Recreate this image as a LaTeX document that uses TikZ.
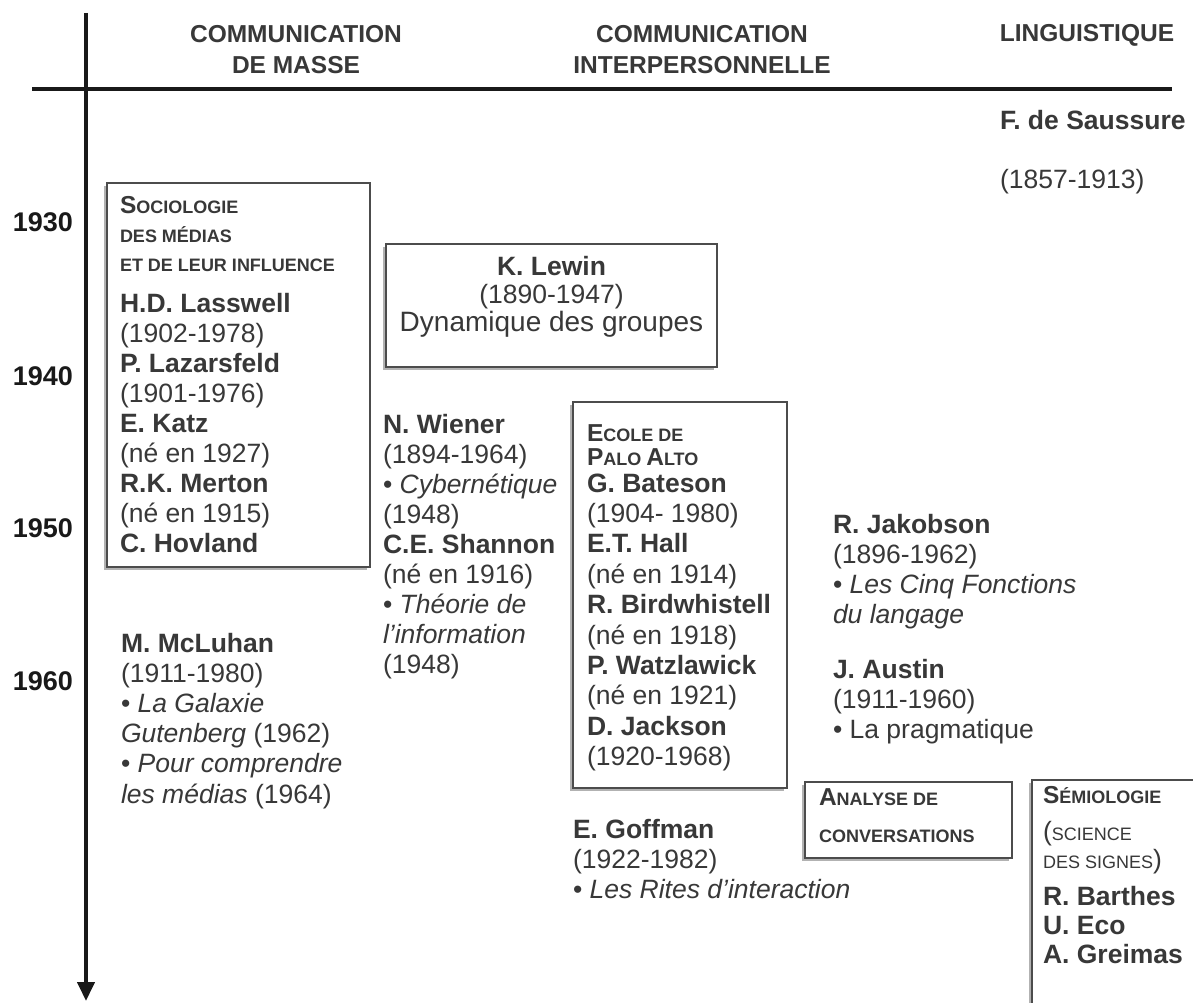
\documentclass[tikz,border=0pt]{standalone}
\usepackage{fontspec}
\setmainfont{Liberation Sans}
\usetikzlibrary{arrows.meta,shadows}
\definecolor{txt}{gray}{0.22}
\definecolor{ink}{gray}{0.10}
\definecolor{boxc}{gray}{0.30}
\definecolor{shad}{gray}{0.70}
\newcommand\bodyfont{\fontsize{26.5}{30.3}\selectfont}
\newcommand\scb[2]{{\fontsize{24.5}{24}\selectfont\bfseries #1}{\fontsize{18}{18}\selectfont\bfseries #2}}
\newcommand\scr[1]{{\fontsize{18}{18}\selectfont #1}}
\newcommand\rl[1]{\hbox{#1}}
\newcommand\ctr[1]{\hbox to 330pt{\hfil #1\hfil}}
\newcommand\blk[2]{\vtop{\baselineskip=#1\lineskiplimit=-40pt\lineskip=0pt #2}}
\tikzset{
  x=1pt, y=-1pt,
  tx/.style={inner sep=0pt, outer sep=0pt, text=txt, font=\bodyfont},
  hd/.style={inner sep=0pt, outer sep=0pt, text=txt, font=\fontsize{24.5}{31}\selectfont\bfseries},
  yr/.style={inner sep=0pt, outer sep=0pt, text=ink, font=\fontsize{27}{27}\selectfont\bfseries},
  boxst/.style={draw=boxc, line width=2pt, fill=white, inner sep=0pt,
    drop shadow={shadow xshift=-3pt, shadow yshift=-3pt, fill=shad, opacity=1}},
  axisline/.style={draw=ink, line width=4pt},
}
\begin{document}
\begin{tikzpicture}
\useasboundingbox (0,0) rectangle (1193,1003);
\clip (0,0) rectangle (1193,1003);
\fill[white] (0,0) rectangle (1193,1003);

% axes
\coordinate (axtop) at (86,13);
\coordinate (axbot) at (86,1001);
\coordinate (hlL) at (32,89);
\coordinate (hlR) at (1172,89);
\draw[axisline] (hlL) -- (hlR);
\draw[axisline, -{Triangle[length=19pt,width=17pt]}] (axtop) -- (axbot);

% headers
\node[hd, anchor=base] (h1) at (296,43) {\blk{31pt}{\ctr{COMMUNICATION}\ctr{DE MASSE}}};
\node[hd, anchor=base] (h2) at (702,43) {\blk{31pt}{\ctr{COMMUNICATION}\ctr{INTERPERSONNELLE}}};
\node[hd, anchor=base] (h3) at (1087,42) {LINGUISTIQUE};

% years
\node[yr, anchor=base east] (y1930) at (73,231) {1930};
\node[yr, anchor=base east] (y1940) at (73,385) {1940};
\node[yr, anchor=base east] (y1950) at (73,537) {1950};
\node[yr, anchor=base east] (y1960) at (73,690) {1960};

% boxes
\node[boxst, minimum width=263pt, minimum height=384pt] (socbox) at (238.5,375) {};
\node[boxst, minimum width=331pt, minimum height=123pt] (lewbox) at (551.5,305.5) {};
\node[boxst, minimum width=214pt, minimum height=386pt] (palbox) at (680,595) {};
\node[boxst, minimum width=207pt, minimum height=76pt] (anabox) at (908.5,820) {};
\node[boxst, minimum width=183pt, minimum height=245pt] (sembox) at (1123.5,902.5) {};

% Sociologie
\node[tx, anchor=base west] (soch) at (120,213) {\blk{29pt}{\rl{\scb{S}{OCIOLOGIE}}\rl{\scb{}{DES MÉDIAS}}\rl{\scb{}{ET DE LEUR INFLUENCE}}}};
\node[tx, anchor=base west] (socn) at (120,312) {\blk{30.1pt}{%
\rl{\textbf{H.D. Lasswell}}\rl{(1902-1978)}\rl{\textbf{P. Lazarsfeld}}\rl{(1901-1976)}%
\rl{\textbf{E. Katz}}\rl{(né en 1927)}\rl{\textbf{R.K. Merton}}\rl{(né en 1915)}\rl{\textbf{C. Hovland}}}};

% Lewin
\node[tx, anchor=base] (lewt) at (551.5,275) {\blk{28pt}{\ctr{\textbf{K. Lewin}}\ctr{(1890-1947)}\ctr{\fontsize{28}{28}\selectfont Dynamique des groupes}}};

% Wiener / Shannon
\node[tx, anchor=base west] (wien) at (383,433) {\blk{30.1pt}{%
\rl{\textbf{N. Wiener}}\rl{(1894-1964)}\rl{• \textit{Cybernétique}}\rl{(1948)}%
\rl{\textbf{C.E. Shannon}}\rl{(né en 1916)}\rl{• \textit{Théorie de}}\rl{\textit{l’information}}\rl{(1948)}}};

% Palo Alto
\node[tx, anchor=base west] (palh) at (587,441) {\blk{24pt}{\rl{\scb{E}{COLE DE}}\rl{\scb{P}{ALO }\scb{A}{LTO}}}};
\node[tx, anchor=base west] (paln) at (587,492) {\blk{30.4pt}{%
\rl{\textbf{G. Bateson}}\rl{(1904- 1980)}\rl{\textbf{E.T. Hall}}\rl{(né en 1914)}%
\rl{\textbf{R. Birdwhistell}}\rl{(né en 1918)}\rl{\textbf{P. Watzlawick}}\rl{(né en 1921)}%
\rl{\textbf{D. Jackson}}\rl{(1920-1968)}}};

% McLuhan
\node[tx, anchor=base west] (mclu) at (121,652) {\blk{30.2pt}{%
\rl{\textbf{M. McLuhan}}\rl{(1911-1980)}\rl{• \textit{La Galaxie}}\rl{\textit{Gutenberg} (1962)}%
\rl{• \textit{Pour comprendre}}\rl{\textit{les médias} (1964)}}};

% Goffman
\node[tx, anchor=base west] (goff) at (573,838) {\blk{30pt}{%
\rl{\textbf{E. Goffman}}\rl{(1922-1982)}\rl{• \textit{Les Rites d’interaction}}}};

% Saussure
\node[tx, anchor=base west] (saus) at (1000,130) {\textbf{F. de Saussure}};
\node[tx, anchor=base west] (sausd) at (1000,189) {(1857-1913)};

% Jakobson / Austin
\node[tx, anchor=base west] (jak) at (833,533) {\blk{30.3pt}{%
\rl{\textbf{R. Jakobson}}\rl{(1896-1962)}\rl{• \textit{Les Cinq Fonctions}}\rl{\textit{du langage}}}};
\node[tx, anchor=base west] (aus) at (833,678) {\blk{30pt}{%
\rl{\textbf{J. Austin}}\rl{(1911-1960)}\rl{• La pragmatique}}};

% Analyse
\node[tx, anchor=base west] (anat) at (819,805) {\blk{37pt}{\rl{\scb{A}{NALYSE DE}}\rl{\scb{}{CONVERSATIONS}}}};

% Semiologie
\node[tx, anchor=base west] (semh) at (1043,803) {\scb{S}{ÉMIOLOGIE}};
\node[tx, anchor=base west] (sems) at (1043,840) {\blk{28pt}{\rl{(\scr{SCIENCE}}\rl{\scr{DES SIGNES})}}};
\node[tx, anchor=base west] (semn) at (1043,905) {\blk{29pt}{%
\rl{\textbf{R. Barthes}}\rl{\textbf{U. Eco}}\rl{\textbf{A. Greimas}}}};
\end{tikzpicture}
\end{document}
